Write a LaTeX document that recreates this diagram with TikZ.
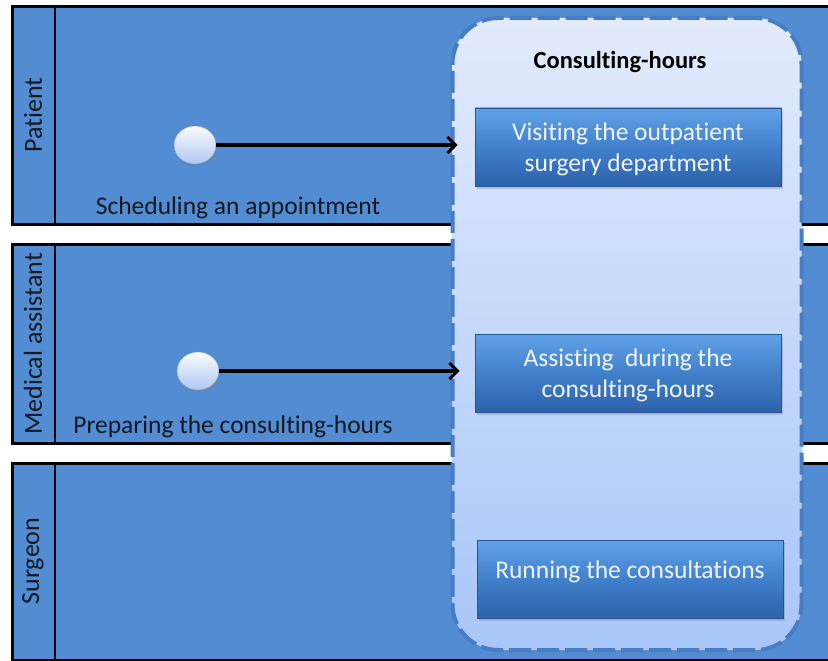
\documentclass[tikz,border=0pt]{standalone}
\usepackage{fontspec}
\setmainfont{Carlito}[Ligatures={NoCommon,NoContextual}]
\usetikzlibrary{arrows.meta,shadows,shapes.geometric}

\definecolor{lanefill}{RGB}{82,140,210}
\definecolor{laneink}{RGB}{20,24,32}
\definecolor{grpedge}{RGB}{72,124,196}
\definecolor{grptop}{RGB}{226,235,252}
\definecolor{grpbot}{RGB}{168,198,248}
\definecolor{acttop}{RGB}{96,162,232}
\definecolor{actmid}{RGB}{66,128,204}
\definecolor{actbot}{RGB}{44,98,170}
\definecolor{actedge}{RGB}{40,84,150}
\definecolor{acttext}{RGB}{240,244,250}
\definecolor{balltop}{RGB}{250,252,255}
\definecolor{ballbot}{RGB}{176,200,242}

\tikzset{
  lanebox/.style={fill=lanefill, draw=black, line width=3pt},
  lanesep/.style={draw=black, line width=2.4pt},
  lanehead/.style={rotate=90, text=laneink, font=\fontsize{26}{30}\selectfont},
  lanetext/.style={text=laneink, font=\fontsize{25.5}{30}\selectfont},
  grp/.style={rectangle, rounded corners=46pt, draw=grpedge, line width=4pt,
    dash pattern=on 22pt off 6pt, top color=grptop, bottom color=grpbot,
    drop shadow={shadow xshift=1pt, shadow yshift=-2pt, opacity=0.25}},
  grptitle/.style={font=\bfseries\fontsize{24.5}{28}\selectfont, text=black},
  act/.style={rectangle, draw=actedge, line width=0.6pt,
    top color=acttop, bottom color=actbot, middle color=actmid,
    text=acttext, align=center, font=\fontsize{25.5}{31}\selectfont,
    minimum width=306pt, minimum height=78pt,
    drop shadow={shadow xshift=2pt, shadow yshift=-3pt, opacity=0.35},
    path picture={
      % bevel: light band along the top, dark band along the bottom
      \fill[white, opacity=0.22]
        (path picture bounding box.north west) rectangle
        ([yshift=5pt]path picture bounding box.north east);
      \fill[black, opacity=0.15]
        (path picture bounding box.south west) rectangle
        ([yshift=-5pt]path picture bounding box.south east);
    }},
  ball/.style={ellipse, minimum width=42pt, minimum height=38pt, inner sep=0pt,
    top color=balltop, bottom color=ballbot, draw=ballbot!80!black, line width=0.4pt,
    drop shadow={shadow xshift=1pt, shadow yshift=-2pt, opacity=0.35}},
  flow/.style={draw=black, line width=3.2pt,
    -{Straight Barb[length=8pt, width=16pt, line width=3pt]}}
}

\begin{document}
\begin{tikzpicture}[x=1pt, y=-1pt]
  \clip (0,0) rectangle (828,661);
  \fill[white] (0,0) rectangle (828,661);

  % swim lanes (they run on past the right edge)
  \draw[lanebox] (12,7) rectangle (860,224);
  \draw[lanesep] (55,7) -- (55,224);
  \draw[lanebox] (12,244) rectangle (860,443);
  \draw[lanesep] (55,244) -- (55,443);
  \draw[lanebox] (12,463) rectangle (860,660);
  \draw[lanesep] (55,463) -- (55,660);

  \node[lanehead] (hPatient) at (33,115) {Patient};
  \node[lanehead] (hAssistant) at (33,344) {Medical assistant};
  \node[lanehead] (hSurgeon) at (33,561) {Surgeon};

  % start events with their labels
  \node[ball] (s1) at (195,145) {};
  \node[ball] (s2) at (198,371) {};
  \node[lanetext] (t1) at (238,208) {Scheduling an appointment};
  \node[lanetext] (t2) at (233,427) {Preparing the consulting-hours};

  % consulting-hours group
  \node[grp, minimum width=349pt, minimum height=632pt] (grp) at (627,334) {};
  \node[grptitle] (title) at (620,62) {Consulting-hours};

  % activities
  \node[act, text depth=0pt] (a1) at (628,147) {Visiting the outpatient\\surgery department};
  \node[act, text depth=0pt] (a2) at (628,373) {Assisting\ \ during the\\consulting-hours};
  \node[act] (a3) at (630,579) {Running the consultations\\[-12pt]\mbox{}};

  % flows into the group
  \draw[flow, shorten >=-7pt] (s1) -- (s1 -| grp.west);
  \draw[flow, shorten >=-9pt] (s2) -- (s2 -| grp.west);
\end{tikzpicture}
\end{document}
